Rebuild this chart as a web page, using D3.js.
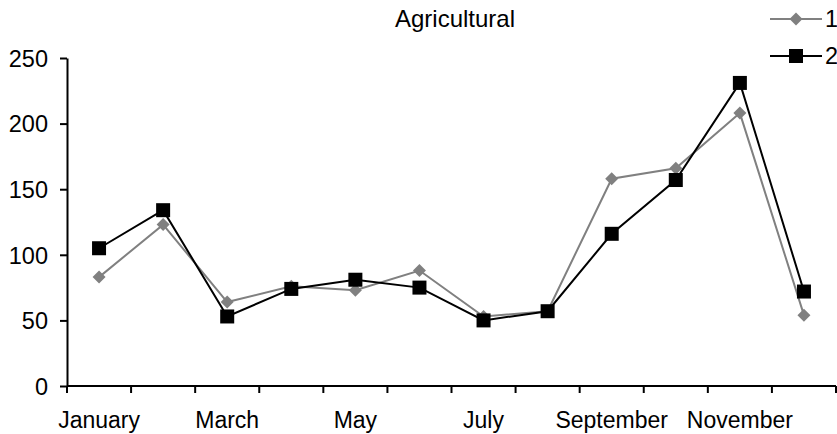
<!DOCTYPE html>
<html>
<head>
<meta charset="utf-8">
<script src="https://cdn.jsdelivr.net/npm/d3@7"></script>
<style>
  html, body { margin: 0; padding: 0; background: #fff; }
  svg { display: block; }
  text { font-family: "Liberation Sans", Arial, Helvetica, sans-serif; fill: #000; }
</style>
</head>
<body>
<svg id="chart" width="837" height="434"></svg>
<script>
// Monthly values for the two agricultural series
const months = ["January", "February", "March", "April", "May", "June",
                "July", "August", "September", "October", "November", "December"];
const series1 = [83, 123, 64, 76, 73, 88, 53, 57, 158, 166, 208, 54];
const series2 = [105, 134, 53, 74, 81, 75, 50, 57, 116, 157, 231, 72];
const yTicks = [0, 50, 100, 150, 200, 250];
const seriesNames = ["1", "2"];

const svg = d3.select("#chart");

const x = d3.scaleBand().domain(months).range([67, 836]).padding(0);
const y = d3.scaleLinear().domain([0, 250]).range([386, 58]);
const cx = m => x(m) + x.bandwidth() / 2;

// Title
svg.append("text")
  .attr("x", 455).attr("y", 27)
  .attr("text-anchor", "middle")
  .style("font-size", "24px")
  .text("Agricultural");

// Y axis
const yAxis = svg.append("g")
  .attr("transform", "translate(67,0)")
  .call(d3.axisLeft(y).tickValues(yTicks).tickSize(7).tickSizeOuter(0).tickPadding(12));
yAxis.select(".domain").attr("stroke", "#000").attr("stroke-width", 2);
yAxis.selectAll(".tick line").attr("stroke", "#000").attr("stroke-width", 2);
yAxis.selectAll(".tick text")
  .style("font-size", "23.5px").style("font-family", "'Liberation Sans', Arial, sans-serif")
  .attr("dy", "0.35em");

// X axis: ticks sit between the months, every other month labelled
const xAxisG = svg.append("g").attr("transform", "translate(0,386)");
xAxisG.append("line")
  .attr("x1", 67).attr("x2", 836)
  .attr("stroke", "#000").attr("stroke-width", 2);
const boundaries = months.map(m => x(m)).concat([x.range()[1]]);
xAxisG.selectAll("line.tick")
  .data(boundaries).join("line")
  .attr("class", "tick")
  .attr("x1", d => d).attr("x2", d => d)
  .attr("y1", 0).attr("y2", 7)
  .attr("stroke", "#000").attr("stroke-width", 2);
xAxisG.selectAll("text.label")
  .data(months.filter((m, i) => i % 2 === 0)).join("text")
  .attr("class", "label")
  .attr("x", d => cx(d)).attr("y", 42)
  .attr("text-anchor", "middle")
  .style("font-size", "23px")
  .text(d => d);

const line = d3.line().x((d, i) => cx(months[i])).y(d => y(d));

// Series 1: grey line with diamonds
svg.append("path").datum(series1)
  .attr("d", line).attr("fill", "none")
  .attr("stroke", "#808080").attr("stroke-width", 2);
const diamond = s => `M0,${-s}L${s},0L0,${s}L${-s},0Z`;
svg.selectAll("path.s1")
  .data(series1).join("path")
  .attr("class", "s1")
  .attr("transform", (d, i) => `translate(${cx(months[i])},${y(d)})`)
  .attr("d", diamond(6.5))
  .attr("fill", "#808080");

// Series 2: black line with squares
svg.append("path").datum(series2)
  .attr("d", line).attr("fill", "none")
  .attr("stroke", "#000").attr("stroke-width", 2);
svg.selectAll("rect.s2")
  .data(series2).join("rect")
  .attr("class", "s2")
  .attr("x", (d, i) => cx(months[i]) - 7)
  .attr("y", d => y(d) - 7)
  .attr("width", 14).attr("height", 14)
  .attr("fill", "#000");

// Legend
const legend = svg.append("g");
const legendRows = [
  { name: seriesNames[0], y: 19, color: "#808080", shape: "diamond" },
  { name: seriesNames[1], y: 56, color: "#000", shape: "square" }
];
legendRows.forEach(r => {
  legend.append("line")
    .attr("x1", 770).attr("x2", 822).attr("y1", r.y).attr("y2", r.y)
    .attr("stroke", r.color).attr("stroke-width", 2);
  if (r.shape === "diamond") {
    legend.append("path")
      .attr("transform", `translate(796,${r.y})`)
      .attr("d", diamond(6.5)).attr("fill", r.color);
  } else {
    legend.append("rect")
      .attr("x", 796 - 7).attr("y", r.y - 7)
      .attr("width", 14).attr("height", 14).attr("fill", r.color);
  }
  legend.append("text")
    .attr("x", 825).attr("y", r.y).attr("dy", "0.35em")
    .style("font-size", "23.5px")
    .text(r.name);
});
</script>
</body>
</html>
